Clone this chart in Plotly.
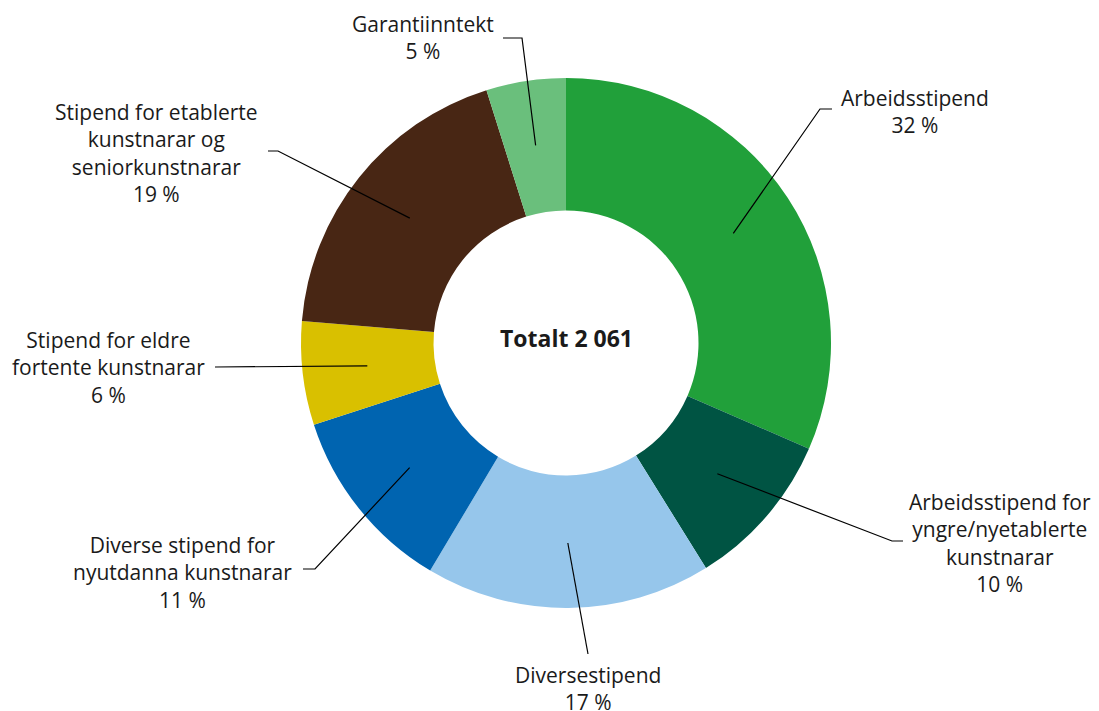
import math
import plotly.graph_objects as go

# ---- data ----
categories = [
    "Arbeidsstipend",
    "Arbeidsstipend for yngre/nyetablerte kunstnarar",
    "Diversestipend",
    "Diverse stipend for nyutdanna kunstnarar",
    "Stipend for eldre fortente kunstnarar",
    "Stipend for etablerte kunstnarar og seniorkunstnarar",
    "Garantiinntekt",
]
values = [650, 198, 359, 236, 130, 388, 100]
percent_labels = ["32 %", "10 %", "17 %", "11 %", "6 %", "19 %", "5 %"]
label_lines = [
    ["Arbeidsstipend"],
    ["Arbeidsstipend for", "yngre/nyetablerte", "kunstnarar"],
    ["Diversestipend"],
    ["Diverse stipend for", "nyutdanna kunstnarar"],
    ["Stipend for eldre", "fortente kunstnarar"],
    ["Stipend for etablerte", "kunstnarar og", "seniorkunstnarar"],
    ["Garantiinntekt"],
]
center_text = "Totalt 2 061"

colors = ["#21A03A", "#005443", "#96C6EB", "#0064B0", "#D9C000", "#482614", "#6ABF7C"]

# ---- layout (pixels, in page coordinates; page has an 8px body margin) ----
OFF = 8
W, H = 1099 - OFF, 711 - OFF
CX, CY, R = 566, 343, 265
HOLE = 0.5
TIP_R = 200
FONT = "Open Sans"

# label block centers (px) and leader line (elbow, end) points (px)
label_pos = [(915, 112), (1000, 543), (588, 688), (182, 572), (108, 367), (156, 153), (423, 38)]
leader_pts = [
    [(820, 109), (832, 109)],
    [(892, 541), (903, 541)],
    [(588, 654)],
    [(315, 569), (303, 569)],
    [(215, 367)],
    [(278, 151), (268, 151)],
    [(522, 38), (503, 38)],
]


def px(x):
    return (x - OFF) / W


def py(y):
    return 1 - (y - OFF) / H


fig = go.Figure()
fig.add_trace(go.Pie(
    labels=categories,
    values=values,
    marker=dict(colors=colors, line=dict(width=0)),
    hole=HOLE,
    sort=False,
    direction="clockwise",
    rotation=0,
    textinfo="none",
    hoverinfo="label+value+percent",
    showlegend=False,
    domain=dict(x=[px(CX - R), px(CX + R)], y=[py(CY + R), py(CY - R)]),
))

total = sum(values)
cum = 0
shapes = []
annotations = []
for i, v in enumerate(values):
    mid = (cum + v / 2) / total * 2 * math.pi
    cum += v
    tx = CX + TIP_R * math.sin(mid)
    ty = CY - TIP_R * math.cos(mid)
    pts = [(tx, ty)] + leader_pts[i]
    path = "M " + " L ".join(f"{px(a):.5f},{py(b):.5f}" for a, b in pts)
    shapes.append(dict(type="path", path=path, xref="paper", yref="paper",
                       line=dict(color="#000000", width=1.2)))
    text = "<br>".join(label_lines[i] + [percent_labels[i]])
    lx, ly = label_pos[i]
    annotations.append(dict(x=px(lx), y=py(ly), xref="paper", yref="paper",
                            text=text, showarrow=False, xanchor="center", yanchor="middle",
                            align="center", font=dict(family=FONT, size=21, color="#1a1a1a")))

annotations.append(dict(x=px(CX), y=py(CY - 5), xref="paper", yref="paper",
                        text=f"<b>{center_text}</b>", showarrow=False,
                        font=dict(family=FONT, size=23, color="#1a1a1a")))

fig.update_layout(
    width=W, height=H,
    margin=dict(l=0, r=0, t=0, b=0),
    paper_bgcolor="white",
    plot_bgcolor="white",
    shapes=shapes,
    annotations=annotations,
)

fig.write_html("out.html")
